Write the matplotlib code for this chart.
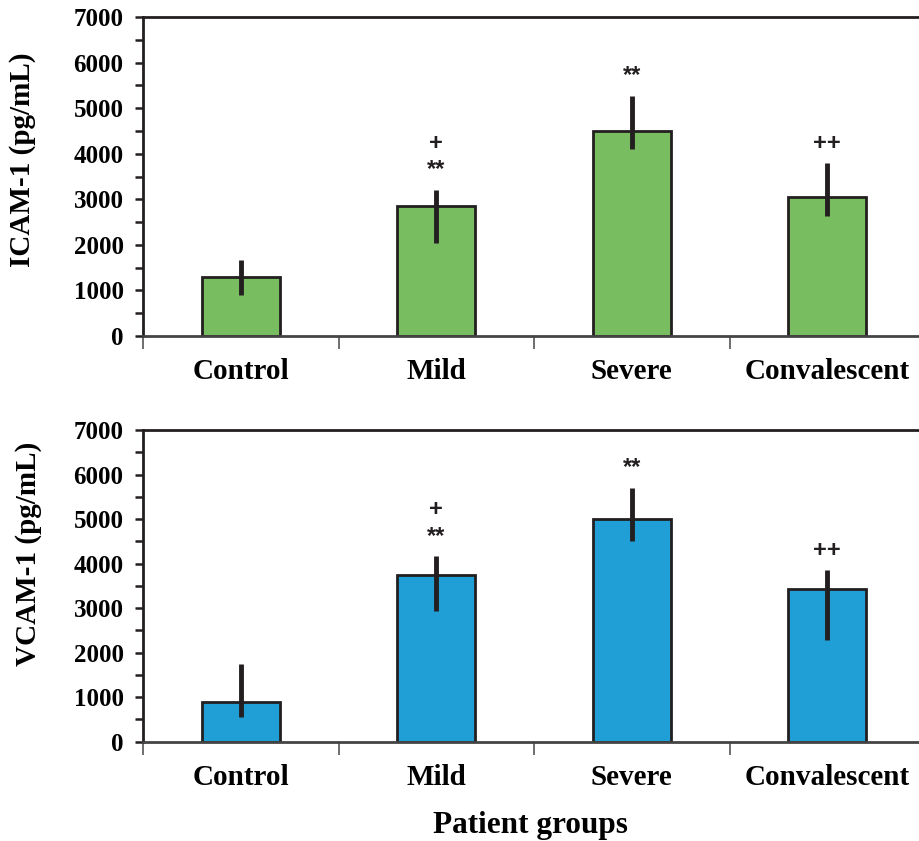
import matplotlib
matplotlib.use("Agg")
import matplotlib.pyplot as plt
import numpy as np

# Data
groups = ["Control", "Mild", "Severe", "Convalescent"]

icam_mean = [1290, 2860, 4500, 3050]
icam_low = [906, 2047, 4110, 2633]
icam_high = [1661, 3210, 5273, 3796]

vcam_mean = [898, 3744, 4994, 3422]
vcam_low = [562, 2942, 4514, 2284]
vcam_high = [1738, 4170, 5704, 3856]

signif = ["", "+\n**", "**", "++"]

plt.rcParams["font.family"] = "Liberation Serif"
plt.rcParams["font.weight"] = "bold"
plt.rcParams["axes.labelweight"] = "bold"

fig = plt.figure(figsize=(9.19, 8.41), dpi=100)

W, H = 919, 841
left_px, right_px = 143, 925


def make_panel(top_px, bottom_px, mean, low, high, color, ylabel, label_xy):
    ax = fig.add_axes(
        [left_px / W, 1 - bottom_px / H, (right_px - left_px) / W, (bottom_px - top_px) / H]
    )
    x = np.arange(len(groups))
    mean = np.array(mean)
    yerr = np.vstack([mean - np.array(low), np.array(high) - mean])
    ax.bar(x, mean, width=0.40, color=color, edgecolor="#231f20", linewidth=2, zorder=2)
    ax.errorbar(x, mean, yerr=yerr, fmt="none", ecolor="#231f20", elinewidth=3.5,
                capsize=0, zorder=3)

    # significance marks above the error bars
    for xi, top, s in zip(x, high, signif):
        if s:
            ax.annotate(s, (xi, top), xytext=(0, 6), textcoords="offset points",
                        ha="center", va="bottom", fontsize=17, fontweight="bold",
                        family="Liberation Sans", linespacing=1.2, color="#231f20")

    ax.set_xlim(-0.5, 3.5)
    ax.set_ylim(0, 7000)
    ax.set_yticks(np.arange(0, 7001, 1000))
    ax.set_yticks(np.arange(500, 7000, 1000), minor=True)
    ax.tick_params(axis="y", which="both", direction="out", length=6, width=1.8,
                   labelsize=18, pad=8, color="#231f20")

    ax.set_xticks(x)
    ax.set_xticklabels(groups, fontsize=21)
    ax.set_xticks(np.arange(-0.5, 3.0, 1.0), minor=True)
    ax.tick_params(axis="x", which="major", length=0, pad=16)
    ax.tick_params(axis="x", which="minor", length=9, width=1.2, color="#555555")

    for side in ["left", "top"]:
        ax.spines[side].set_linewidth(2)
        ax.spines[side].set_color("#231f20")
    ax.spines["bottom"].set_linewidth(2)
    ax.spines["bottom"].set_color("#444444")
    ax.spines["right"].set_visible(False)

    ax.set_ylabel(ylabel, fontsize=21, fontweight="bold")
    ax.yaxis.set_label_coords(*label_xy)
    return ax


make_panel(17, 336, icam_mean, icam_low, icam_high, "#78be60", "ICAM-1 (pg/mL)",
           (-0.137, 0.553))
make_panel(430, 741.7, vcam_mean, vcam_low, vcam_high, "#209fd6", "VCAM-1 (pg/mL)",
           (-0.129, 0.602))

fig.text(530 / W, 1 - 826 / H, "Patient groups", ha="center", va="center", fontsize=22.5)

plt.savefig("out.png", dpi=100)
